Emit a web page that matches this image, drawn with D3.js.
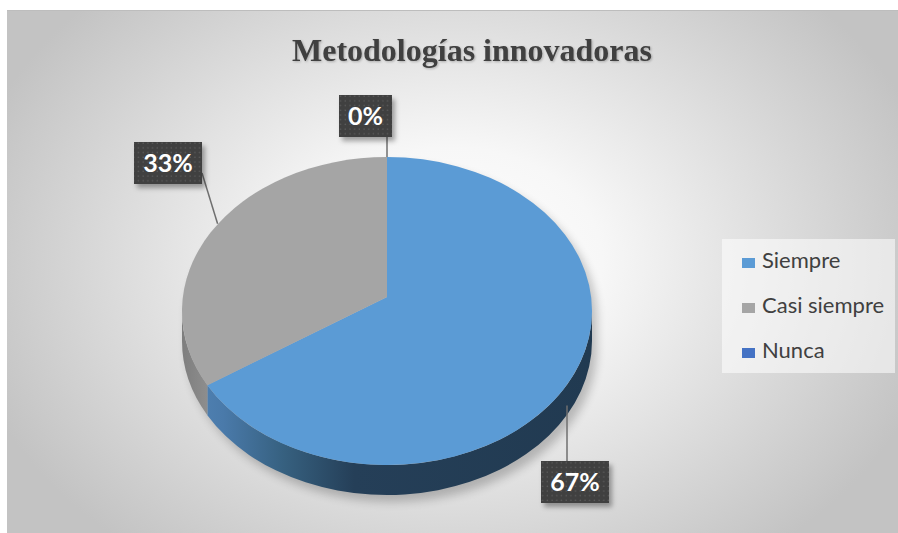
<!DOCTYPE html>
<html><head><meta charset="utf-8">
<script src="https://cdn.jsdelivr.net/npm/d3@7"></script>
<style>html,body{margin:0;padding:0;background:#fff;}svg{display:block;}</style>
</head><body>
<script>
const title = "Metodologías innovadoras";
const categories = ["Siempre", "Casi siempre", "Nunca"];
const values = [67, 33, 0];
const valueLabels = ["67%", "33%", "0%"];
const colors = ["#5B9BD5", "#A5A5A5", "#4472C4"];

const W = 898, H = 533;
const svg = d3.select("body").append("svg").attr("width", W).attr("height", H);
const defs = svg.append("defs");

// background gradient
const bg = defs.append("radialGradient").attr("id", "bg")
  .attr("gradientUnits", "userSpaceOnUse")
  .attr("cx", 452).attr("cy", 260).attr("r", 500)
  .attr("gradientTransform", "translate(452,260) scale(1,0.75) translate(-452,-260)");
bg.append("stop").attr("offset", 0).attr("stop-color", "#ffffff");
bg.append("stop").attr("offset", 0.3).attr("stop-color", "#f7f7f7");
bg.append("stop").attr("offset", 1).attr("stop-color", "#c3c3c3");

svg.append("rect").attr("x", 7).attr("y", 10).attr("width", W - 7).attr("height", H - 10)
  .attr("fill", "url(#bg)");
svg.append("line").attr("x1", 7).attr("x2", W).attr("y1", 10.5).attr("y2", 10.5)
  .attr("stroke", "#bdbdbd").attr("stroke-width", 1);

// filters
const blur = defs.append("filter").attr("id", "pieShadow").attr("x", "-20%").attr("y", "-20%").attr("width", "140%").attr("height", "140%");
blur.append("feGaussianBlur").attr("stdDeviation", 5);
const ds = defs.append("filter").attr("id", "boxShadow").attr("x", "-30%").attr("y", "-30%").attr("width", "160%").attr("height", "160%");
ds.append("feDropShadow").attr("dx", 3).attr("dy", 4).attr("stdDeviation", 2.5).attr("flood-color", "#000").attr("flood-opacity", 0.35);
const tshadow = defs.append("filter").attr("id", "textShadow");
tshadow.append("feDropShadow").attr("dx", 1).attr("dy", 1).attr("stdDeviation", 0.8).attr("flood-color", "#000").attr("flood-opacity", 0.25);

// dotted pattern for label boxes
const pat = defs.append("pattern").attr("id", "dots").attr("patternUnits", "userSpaceOnUse")
  .attr("width", 4.7).attr("height", 4.7);
pat.append("rect").attr("width", 4.7).attr("height", 4.7).attr("fill", "#3f3f3f");
pat.append("rect").attr("x", 1.5).attr("y", 1.5).attr("width", 1.4).attr("height", 1.4).attr("fill", "#5c5c5c");

// side gradient
const sideG = defs.append("linearGradient").attr("id", "sideBlue")
  .attr("gradientUnits", "userSpaceOnUse").attr("x1", 182).attr("x2", 592).attr("y1", 0).attr("y2", 0);
[[0, "#5284b6"], [0.1, "#4a7aaa"], [0.25, "#36607f"], [0.42, "#253f58"], [1, "#213a51"]]
  .forEach(([o, c]) => sideG.append("stop").attr("offset", o).attr("stop-color", c));
const sideGray = defs.append("linearGradient").attr("id", "sideGray")
  .attr("gradientUnits", "userSpaceOnUse").attr("x1", 182).attr("x2", 210).attr("y1", 0).attr("y2", 0);
sideGray.append("stop").attr("offset", 0).attr("stop-color", "#7e7e7e");
sideGray.append("stop").attr("offset", 1).attr("stop-color", "#8f8f8f");

// pie geometry
const cx = 387, cy = 311, rx = 205, ry = 154, depth = 30;
const apex = [387, 297];
const P = (a, dz = 0) => [cx + rx * Math.sin(a), cy - ry * Math.cos(a) + dz];

const pie = d3.pie().sort(null).value(d => d)(values);

// pie shadow
const sh = d3.path();
sh.moveTo(...P(Math.PI / 2));
sh.ellipse ? null : null;
const shadowPath = `M${P(-Math.PI/2)} A${rx} ${ry} 0 1 1 ${P(Math.PI/2)} L${P(Math.PI/2, depth)} A${rx} ${ry} 0 0 1 ${P(-Math.PI/2, depth)} Z`;
svg.append("path").attr("d", shadowPath).attr("transform", "translate(5,7)")
  .attr("fill", "#000").attr("opacity", 0.22).attr("filter", "url(#pieShadow)");

// sides (front half only)
const sideFills = ["url(#sideBlue)", "url(#sideGray)", "#2f4f80"];
pie.forEach((s, i) => {
  if (s.endAngle - s.startAngle <= 0) return;
  const a1 = Math.max(s.startAngle, Math.PI / 2), a2 = Math.min(s.endAngle, 3 * Math.PI / 2);
  if (a2 <= a1) return;
  const large = (a2 - a1) > Math.PI ? 1 : 0;
  const d = `M${P(a1)} A${rx} ${ry} 0 ${large} 1 ${P(a2)} L${P(a2, depth)} A${rx} ${ry} 0 ${large} 0 ${P(a1, depth)} Z`;
  svg.append("path").attr("d", d).attr("fill", sideFills[i]);
});

// tops
pie.forEach((s, i) => {
  if (s.endAngle - s.startAngle <= 0) return;
  const large = (s.endAngle - s.startAngle) > Math.PI ? 1 : 0;
  const d = `M${apex} L${P(s.startAngle)} A${rx} ${ry} 0 ${large} 1 ${P(s.endAngle)} Z`;
  svg.append("path").attr("d", d).attr("fill", colors[i]);
});

// data labels
const labelFont = "Lato, 'Open Sans', sans-serif";
// box top-left corners and leader anchors (layout)
const boxPos = [[541, 461], [134, 142], [339, 95]];
const boxH = 42;
const gLab = svg.append("g");
pie.forEach((s, i) => {
  const mid = (s.startAngle + s.endAngle) / 2;
  const [bx, by] = boxPos[i];
  let anchor, start;
  const t = gLab.append("text").text(valueLabels[i])
    .attr("font-family", labelFont).attr("font-weight", 700).attr("font-size", 25)
    .attr("fill", "#fff");
  const tw = t.node().getComputedTextLength();
  const bw = Math.round(tw + 18);
  if (i === 0) {
    const p = P(mid, 0);
    anchor = [bx + 26, p[1] + 16];
    start = [bx + 26, by];
  } else if (i === 1) {
    const p = P(mid);
    anchor = [cx + (p[0] - cx) * 0.96, cy + (p[1] - cy) * 0.96 - 12];
    start = [bx + bw, by + 31];
  } else {
    anchor = P(mid);
    start = [P(mid)[0], by + boxH];
  }
  gLab.insert("line", "text").attr("x1", start[0]).attr("y1", start[1]).attr("x2", anchor[0]).attr("y2", anchor[1])
    .attr("stroke", "#6f6f6f").attr("stroke-width", 1.5);
  gLab.insert("rect", "text").attr("x", bx).attr("y", by).attr("width", bw).attr("height", boxH)
    .attr("fill", "url(#dots)").attr("filter", "url(#boxShadow)");
  t.attr("x", bx + bw / 2).attr("y", by + 30).attr("text-anchor", "middle");
});

// legend
svg.append("rect").attr("x", 722).attr("y", 239).attr("width", 173).attr("height", 134)
  .attr("fill", "#ffffff").attr("opacity", 0.55);
const leg = svg.append("g");
categories.forEach((c, i) => {
  const y = 268 + i * 45;
  leg.append("rect").attr("x", 742).attr("y", y - 10).attr("width", 13).attr("height", 10).attr("fill", colors[i]);
  leg.append("text").attr("x", 762).attr("y", y).text(c)
    .attr("font-family", labelFont).attr("font-size", 22).attr("fill", "#404040");
});

// title
svg.append("text").attr("x", 472).attr("y", 61).attr("text-anchor", "middle")
  .attr("font-family", "'Liberation Serif', 'Times New Roman', serif").attr("font-weight", 700)
  .attr("font-size", 32).attr("fill", "#404040").attr("filter", "url(#textShadow)")
  .text(title);
</script>
</body></html>
